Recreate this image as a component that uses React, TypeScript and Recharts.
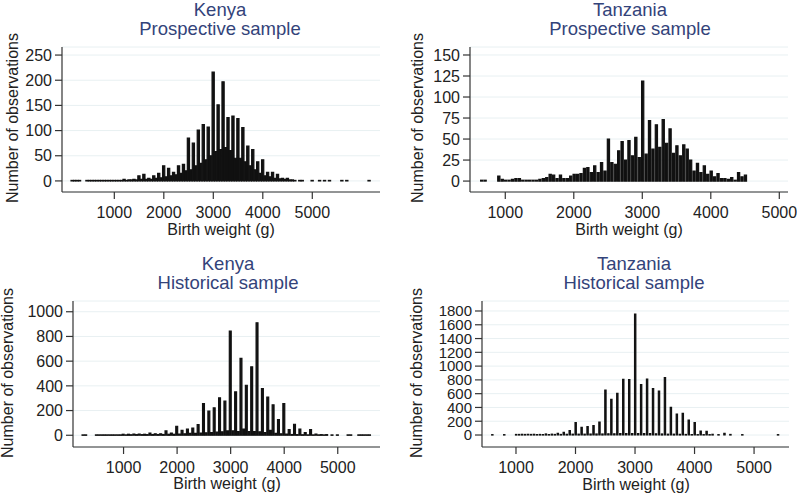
import { BarChart, Bar, XAxis, YAxis, CartesianGrid } from 'recharts';

// 50 g bins shared by all four histograms, one row per thousand grams.
const GRAMS = [
  0, 50, 100, 150, 200, 250, 300, 350, 400, 450, 500, 550, 600, 650, 700, 750, 800, 850, 900, 950,
  1000, 1050, 1100, 1150, 1200, 1250, 1300, 1350, 1400, 1450, 1500, 1550, 1600, 1650, 1700, 1750, 1800, 1850, 1900, 1950,
  2000, 2050, 2100, 2150, 2200, 2250, 2300, 2350, 2400, 2450, 2500, 2550, 2600, 2650, 2700, 2750, 2800, 2850, 2900, 2950,
  3000, 3050, 3100, 3150, 3200, 3250, 3300, 3350, 3400, 3450, 3500, 3550, 3600, 3650, 3700, 3750, 3800, 3850, 3900, 3950,
  4000, 4050, 4100, 4150, 4200, 4250, 4300, 4350, 4400, 4450, 4500, 4550, 4600, 4650, 4700, 4750, 4800, 4850, 4900, 4950,
  5000, 5050, 5100, 5150, 5200, 5250, 5300, 5350, 5400, 5450, 5500, 5550, 5600, 5650, 5700, 5750, 5800, 5850, 5900, 5950,
  6000, 6050, 6100, 6150,
];

const KENYA_PROSPECTIVE = [
  0, 0, 0, 1, 1, 1, 1, 0, 0, 1, 1, 1, 1, 1, 1, 1, 1, 1, 1, 1,
  1, 1, 1, 1, 3, 1, 2, 2, 3, 2, 10, 3, 13, 3, 5, 3, 10, 5, 15, 6,
  30, 8, 25, 10, 17, 12, 30, 15, 33, 20, 85, 22, 75, 30, 101, 35, 112, 42, 107, 50,
  216, 58, 151, 62, 197, 66, 126, 60, 129, 45, 124, 45, 106, 38, 69, 30, 62, 22, 38, 15,
  42, 10, 17, 8, 17, 5, 13, 4, 5, 3, 5, 2, 2, 1, 0, 1, 1, 0, 0, 0,
  1, 0, 0, 1, 0, 1, 0, 1, 0, 0, 0, 0, 1, 0, 1, 0, 0, 0, 0, 0,
  0, 0, 0, 1,
];

const TANZANIA_PROSPECTIVE = [
  0, 0, 0, 0, 0, 0, 0, 0, 0, 0, 0, 0, 0, 1, 1, 0, 0, 0, 6, 2,
  1, 1, 2, 3, 3, 1, 1, 1, 1, 1, 2, 3, 4, 8, 7, 3, 7, 3, 3, 6,
  8, 8, 9, 15, 16, 10, 18, 10, 22, 12, 50, 22, 20, 36, 47, 25, 48, 30, 52, 28,
  119, 32, 72, 38, 67, 40, 73, 45, 62, 33, 42, 30, 43, 38, 25, 12, 21, 10, 18, 8,
  12, 5, 9, 3, 3, 2, 4, 1, 10, 5, 7, 0, 0, 0, 0, 0, 0, 0, 0, 0,
  0, 0, 0, 0, 0, 0, 0, 0, 0, 0, 0, 0, 0, 0, 0, 0, 0, 0, 0, 0,
  0, 0, 0, 0,
];

const KENYA_HISTORICAL = [
  0, 0, 0, 0, 0, 3, 3, 0, 0, 0, 3, 3, 3, 3, 3, 3, 3, 3, 3, 3,
  8, 3, 8, 4, 10, 5, 10, 5, 8, 5, 18, 6, 12, 6, 12, 6, 35, 8, 18, 8,
  73, 10, 40, 12, 49, 15, 59, 15, 86, 18, 257, 20, 195, 22, 222, 25, 303, 28, 276, 35,
  843, 35, 351, 30, 622, 50, 405, 30, 554, 30, 911, 28, 378, 22, 308, 40, 246, 15, 127, 12,
  257, 10, 46, 6, 89, 5, 49, 4, 22, 3, 46, 3, 10, 3, 5, 3, 5, 0, 3, 0,
  3, 0, 0, 0, 3, 3, 0, 0, 3, 3, 3, 3, 3, 0, 0, 0, 0, 0, 0, 0,
  0, 0, 0, 0,
];

const TANZANIA_HISTORICAL = [
  0, 0, 0, 0, 0, 0, 0, 0, 0, 0, 0, 0, 5, 0, 0, 0, 5, 0, 0, 0,
  8, 8, 10, 8, 10, 8, 10, 6, 8, 6, 15, 6, 12, 8, 25, 8, 39, 10, 63, 12,
  179, 12, 111, 12, 121, 14, 135, 15, 189, 15, 653, 18, 518, 18, 605, 20, 808, 20, 803, 22,
  1756, 22, 730, 20, 813, 20, 672, 18, 639, 15, 832, 12, 402, 12, 305, 10, 314, 8, 218, 6,
  179, 5, 58, 5, 53, 5, 10, 0, 5, 0, 25, 0, 8, 0, 0, 0, 5, 0, 0, 0,
  0, 0, 0, 0, 0, 0, 0, 0, 5, 0, 0, 0, 0, 0, 0, 0, 0, 0, 0, 0,
  0, 0, 0, 0,
];

const X_TICKS = [1000, 2000, 3000, 4000, 5000];
const Y_TICKS_KP = [0, 50, 100, 150, 200, 250];
const Y_TICKS_TP = [0, 25, 50, 75, 100, 125, 150];
const Y_TICKS_KH = [0, 200, 400, 600, 800, 1000];
const Y_TICKS_TH = [0, 200, 400, 600, 800, 1000, 1200, 1400, 1600, 1800];

const FONT = "'Liberation Sans', Arial, Helvetica, sans-serif";
const INK = '#222';
const TITLE = '#33437a';

interface Panel {
  country: string;
  sample: string;
  counts: number[];
  xDomain: [number, number];
  yDomain: [number, number];
  yTicks: number[];
  yTickFont: number;
  left: number;
  top: number;
  width: number;
  height: number;
  margin: { top: number; right: number; bottom: number; left: number };
  barSize: number;
  titleX: number;
  titleY: number;
  yLabel: [number, number];
  xLabel: [number, number];
}

const PANELS: Panel[] = [
  {
    country: 'Kenya', sample: 'Prospective sample', counts: KENYA_PROSPECTIVE,
    xDomain: [-57, 6368], yDomain: [-22, 266], yTicks: Y_TICKS_KP, yTickFont: 16,
    left: 0, top: 0, width: 400, height: 245, margin: { top: 47, right: 20, bottom: 23, left: 12 },
    barSize: 2.2, titleX: 220, titleY: 10, yLabel: [13, 118], xLabel: [221, 230],
  },
  {
    country: 'Tanzania', sample: 'Prospective sample', counts: TANZANIA_PROSPECTIVE,
    xDomain: [485, 5127], yDomain: [-13, 159.5], yTicks: Y_TICKS_TP, yTickFont: 16,
    left: 400, top: 0, width: 397, height: 245, margin: { top: 47, right: 9, bottom: 23, left: 20 },
    barSize: 2.2, titleX: 630, titleY: 10, yLabel: [418, 118], xLabel: [629, 230],
  },
  {
    country: 'Kenya', sample: 'Historical sample', counts: KENYA_HISTORICAL,
    xDomain: [56, 5789], yDomain: [-95, 1087], yTicks: Y_TICKS_KH, yTickFont: 16,
    left: 0, top: 240, width: 400, height: 253, margin: { top: 61, right: 20, bottom: 16, left: 23 },
    barSize: 1.9, titleX: 228, titleY: 264, yLabel: [8, 373], xLabel: [227, 484],
  },
  {
    country: 'Tanzania', sample: 'Historical sample', counts: TANZANIA_HISTORICAL,
    xDomain: [429, 5587], yDomain: [-174, 1945], yTicks: Y_TICKS_TH, yTickFont: 15,
    left: 400, top: 240, width: 397, height: 253, margin: { top: 61, right: 8, bottom: 16, left: 32 },
    barSize: 1.3, titleX: 634, titleY: 264, yLabel: [417, 373], xLabel: [636, 485],
  },
];

function Histogram({ p }: { p: Panel }) {
  const rows = GRAMS.map((g, i) => ({ g, n: p.counts[i] })).filter(
    (r) => r.g >= p.xDomain[0] && r.g <= p.xDomain[1],
  );
  return (
    <div style={{ position: 'absolute', left: p.left, top: p.top }}>
      <BarChart width={p.width} height={p.height} data={rows} margin={p.margin} barGap={0} barCategoryGap={0}>
        <CartesianGrid vertical={false} stroke="#e8f0f2" strokeWidth={1} />
        <XAxis
          type="number"
          dataKey="g"
          domain={p.xDomain}
          ticks={X_TICKS}
          allowDataOverflow
          height={30}
          tickSize={7}
          tickMargin={8}
          axisLine={{ stroke: '#333', strokeWidth: 1.2 }}
          tickLine={{ stroke: '#333', strokeWidth: 1.2 }}
          tick={{ fontSize: 16, fill: INK, fontFamily: FONT }}
        />
        <YAxis
          type="number"
          domain={p.yDomain}
          ticks={p.yTicks}
          allowDataOverflow
          width={50}
          tickSize={7}
          tickMargin={3}
          interval={0}
          axisLine={{ stroke: '#333', strokeWidth: 1.2 }}
          tickLine={{ stroke: '#333', strokeWidth: 1.2 }}
          tick={{ fontSize: p.yTickFont, fill: INK, fontFamily: FONT }}
        />
        <Bar dataKey="n" fill="#111" stroke="#111" strokeWidth={1.2} barSize={p.barSize} isAnimationActive={false} />
      </BarChart>
    </div>
  );
}

const centered = (x: number, y: number, extra = ''): React.CSSProperties => ({
  position: 'absolute',
  left: x,
  top: y,
  transform: `translate(-50%, -50%) ${extra}`,
  whiteSpace: 'nowrap',
  lineHeight: 1,
  fontFamily: FONT,
});

export default function App() {
  return (
    <div style={{ position: 'absolute', left: 0, top: 0, width: 797, height: 493, background: '#fff', overflow: 'hidden' }}>
      {PANELS.map((p) => (
        <Histogram key={p.country + p.sample} p={p} />
      ))}
      {PANELS.map((p) => (
        <div key={'t' + p.country + p.sample}>
          <div style={{ ...centered(p.titleX, p.titleY), fontSize: 18.5, color: TITLE }}>{p.country}</div>
          <div style={{ ...centered(p.titleX, p.titleY + 18.5), fontSize: 18.5, color: TITLE }}>{p.sample}</div>
          <div style={{ ...centered(p.yLabel[0], p.yLabel[1], 'rotate(-90deg)'), fontSize: 16, color: INK }}>
            Number of observations
          </div>
          <div style={{ ...centered(p.xLabel[0], p.xLabel[1]), fontSize: 16, color: INK }}>Birth weight (g)</div>
        </div>
      ))}
    </div>
  );
}
